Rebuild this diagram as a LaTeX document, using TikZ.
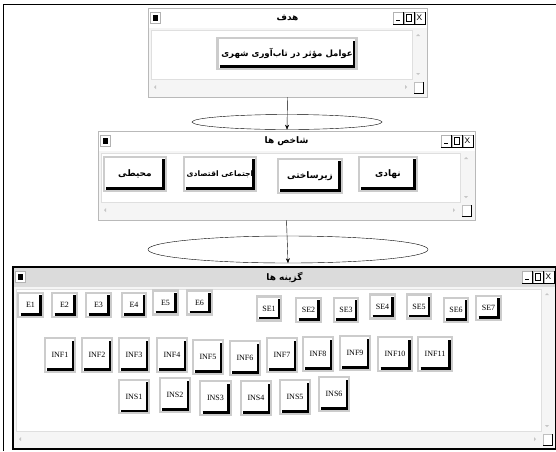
\documentclass[tikz,border=0pt]{standalone}
\usepackage{fontspec}
\setmainfont{Liberation Serif}
\newfontfamily\arfont[Script=Arabic]{DejaVu Sans}
\TeXXeTstate=1
\usetikzlibrary{arrows.meta,shapes.geometric}
\newcommand{\fatext}[1]{{\arfont\bfseries #1}}
\tikzset{
    win/.style = {
        fill = white,
        inner sep = 0pt,
        outer sep = 0pt,
        },
    win border/.style = {
        draw = gray!55,
        line width = 1pt,
        },
    bar/.style = {
        fill = white,
        },
    wintitle/.style = {
        font = \fontsize{9}{10}\selectfont,
        inner sep = 0pt,
        },
    opt/.style = {
        draw = gray!40,
        fill = white,
        line width = 2.4pt,
        inner sep = 0pt,
        font = \fontsize{8}{9}\selectfont,
        path picture = {
            \draw[black, line width=2.4pt]
                ([xshift=2.4pt,yshift=2.4pt]path picture bounding box.south west) --
                ([xshift=-2.4pt,yshift=2.4pt]path picture bounding box.south east) --
                ([xshift=-2.4pt,yshift=-2.4pt]path picture bounding box.north east);
            },
        },
    fa opt/.style = {
        opt,
        font = \fontsize{9}{10}\selectfont,
        minimum height = 34pt,
        },
    e opt/.style = {
        opt,
        minimum width = 24.5pt,
        minimum height = 24pt,
        },
    inf opt/.style = {
        opt,
        minimum width = 30.5pt,
        minimum height = 33.5pt,
        },
    link/.style = {
        ellipse,
        draw,
        thin,
        inner sep = 0pt,
        },
    arrow/.style = {
        -{Stealth[length=5pt,width=4pt]},
        thin,
        },
}
% window with title bar and scroll bars
% #1 scope options, #2 name, #3 left, #4 top, #5 right, #6 bottom, #7 title
\newcommand{\ahpwin}[7][]{%
    \begin{scope}[#1]
    \node[win, minimum width=#5-#3, minimum height=#6-#4] (#2) at ({(#3+#5)/2},{(#4+#6)/2}) {};
    \fill[gray!8] (#3,#4+20) rectangle (#5,#6);
    \draw[gray!25, fill=white] (#3+3,#4+22) rectangle (#5-15,#6-18);
    \fill[bar] (#3,#4) rectangle (#5,#4+20);
    \node[wintitle] (#2 title) at ({(#3+#5)/2},#4+10) {\fatext{#7}};
    % icon
    \draw[gray!60, fill=white] (#3+2,#4+4) rectangle (#3+12,#4+15);
    \fill (#3+4.5,#4+6.5) rectangle (#3+9.5,#4+12.5);
    % min max close
    \foreach \k in {0,1,2} {
        \draw[gray!60, fill=white] (#5-34+11*\k,#4+4) rectangle (#5-24+11*\k,#4+16);
        \draw[line width=0.8pt] (#5-34+11*\k,#4+16) -- (#5-24+11*\k,#4+16) -- (#5-24+11*\k,#4+4);
    }
    \draw[line width=1pt] (#5-31,#4+12.5) -- (#5-27,#4+12.5);
    \draw (#5-21,#4+6.5) rectangle (#5-16,#4+13);
    \node[inner sep=0pt, font=\fontsize{8}{8}\sffamily] (#2 close) at (#5-7.5,#4+10) {X};
    % scroll bars
    \fill[gray!45] (#5-11,#4+28) -- (#5-7,#4+28) -- (#5-9,#4+26) -- cycle;
    \fill[gray!45] (#5-11,#6-24) -- (#5-7,#6-24) -- (#5-9,#6-22) -- cycle;
    \fill[gray!45] (#3+8,#6-12) -- (#3+8,#6-8) -- (#3+6,#6-10) -- cycle;
    \fill[gray!45] (#5-22,#6-12) -- (#5-22,#6-8) -- (#5-20,#6-10) -- cycle;
    \draw[gray!50, fill=white] (#5-13,#6-15) rectangle (#5-4,#6-4);
    \draw[line width=0.8pt] (#5-13,#6-4) -- (#5-4,#6-4) -- (#5-4,#6-15);
    \draw[win border] (#2.north west) rectangle (#2.south east);
    \end{scope}
}

\begin{document}
\begin{tikzpicture}[x=1pt, y=-1pt]
    \useasboundingbox (0,0) rectangle (556,451);
    \draw[line width=0.8pt] (3,451) -- (3,4) -- (556,4);

    % goal
    \ahpwin{goal}{148}{8}{427}{97}{\beginR هدف\endR}
    \node[fa opt, minimum width=139pt, minimum height=30.5pt, font=\fontsize{8.6}{10}\selectfont] (factors) at (287,53.5) {\fatext{\beginR عوامل مؤثر در تاب‌آوری شهری\endR}};

    % criteria
    \ahpwin{criteria}{98}{131}{475}{220}{\beginR شاخص ها\endR}
    \node[fa opt, minimum width=62pt] (env) at (135,174) {\fatext{\beginR محیطی\endR}};
    \node[fa opt, minimum width=72pt, font=\fontsize{7.6}{9}\selectfont] (soc) at (220,174) {\fatext{\beginR اجتماعی اقتصادی\endR}};
    \node[fa opt, minimum width=64pt] (infra) at (310,176) {\fatext{\beginR زیرساختی\endR}};
    \node[fa opt, minimum width=58pt] (inst) at (388,174) {\fatext{\beginR نهادی\endR}};

    % alternatives
    \ahpwin[bar/.style={fill=gray!28}, win border/.style={draw=black, line width=1.4pt}]{choices}{13}{267}{556}{449}{\beginR گزینه ها\endR}
    \foreach \lbl/\x/\y in {E1/30.5/305, E2/64.5/305, E3/98.5/305, E4/134/305, E5/165.5/302.5, E6/199.5/302.5,
        SE1/269/308.5, SE2/308.5/310, SE3/346/310, SE4/382.5/306.5, SE5/419/306.5, SE6/456/310, SE7/488.5/308}
        \node[e opt] (\lbl) at (\x,\y) {\lbl};
    \foreach \lbl/\x/\y in {INF1/60/355, INF2/97/355, INF3/134/355, INF4/172/355, INF5/208/357, INF6/245/358,
        INF7/282/355, INF8/318/354, INF9/355/353,
        INS1/134/396.5, INS2/175/395, INS3/215.5/398, INS4/256/398, INS5/295/397, INS6/334/394}
        \node[inf opt] (\lbl) at (\x,\y) {\lbl};
    \node[inf opt, minimum width=33.5pt] (INF10) at (395,354) {INF10};
    \node[inf opt, minimum width=33.5pt] (INF11) at (435,354) {INF11};

    % links
    \node[link, minimum width=190pt, minimum height=15pt] (l1) at (287,122) {};
    \node[link, minimum width=280pt, minimum height=27pt] (l2) at (288,249.5) {};
    \draw[arrow] (goal.south) -- (l1.south);
    \draw[arrow] (criteria.south) -- (l2.south);
\end{tikzpicture}
\end{document}
